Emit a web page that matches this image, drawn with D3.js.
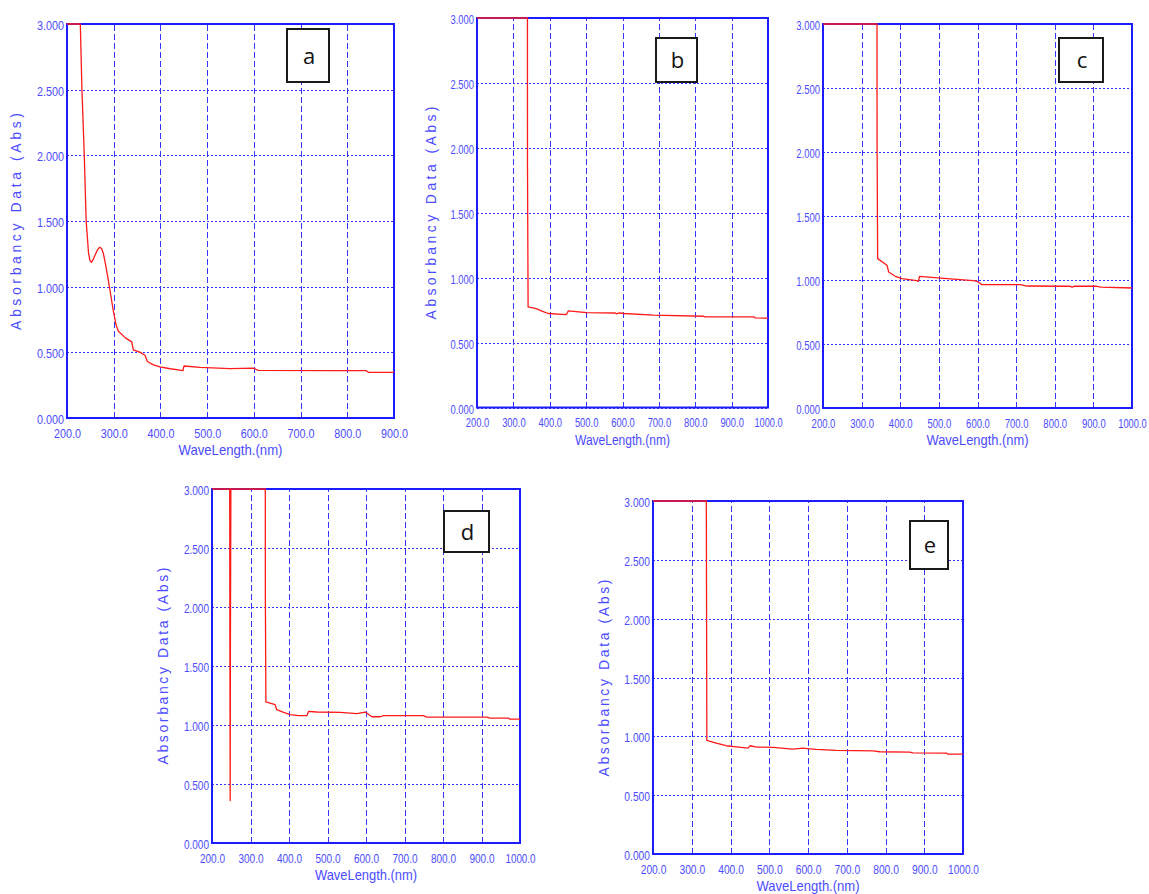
<!DOCTYPE html>
<html>
<head>
<meta charset="utf-8">
<script src="https://cdn.jsdelivr.net/npm/d3@7"></script>
<style>
body { margin: 0; background: #fff; }
svg { display: block; }
</style>
</head>
<body>
<svg id="chart" width="1149" height="894"></svg>
<script>
// UV-Vis absorbance spectra, five samples (a-e)
const yTicks = [0, 0.5, 1.0, 1.5, 2.0, 2.5, 3.0];
const xTicks900 = [200, 300, 400, 500, 600, 700, 800, 900];
const xTicks1000 = [200, 300, 400, 500, 600, 700, 800, 900, 1000];
const panelLabels = ["a", "b", "c", "d", "e"];

// [wavelength nm, absorbance]
const spectrumA = [[200, 3.0], [228.5, 3.0], [232, 2.5], [237, 2.0], [241, 1.5], [246, 1.26], [249, 1.2], [252, 1.185],
    [255, 1.2], [260, 1.24], [265, 1.28], [270, 1.3], [274, 1.29], [278, 1.25], [282, 1.18], [287, 1.08], [293, 0.95],
    [299, 0.82], [305, 0.71], [310, 0.66], [325, 0.61], [338.5, 0.58], [342, 0.518], [357, 0.5], [367, 0.478],
    [372, 0.43], [385, 0.405], [399, 0.39], [421, 0.375], [445, 0.362], [448, 0.36], [450.5, 0.396], [485, 0.386],
    [549, 0.376], [599, 0.38], [609, 0.363], [770, 0.36], [841, 0.36], [845, 0.348], [900, 0.348]];
const spectrumB = [[200, 3.0], [338.7, 3.0], [338.8, 1.878], [340.5, 0.775], [363, 0.762], [380, 0.74], [396, 0.724],
    [446, 0.716], [451, 0.744], [501, 0.731], [580, 0.728], [583, 0.722], [593, 0.728], [605, 0.724], [685, 0.711],
    [823, 0.703], [826, 0.698], [961, 0.698], [965, 0.69], [1000, 0.688]];
const spectrumC = [[200, 3.0], [339.8, 3.0], [340, 2.078], [341.5, 1.167], [365.7, 1.115], [370, 1.063], [387, 1.029],
    [404.5, 1.01], [443, 0.995], [447, 0.99], [450, 1.029], [521, 1.01], [590, 0.995], [598.6, 0.99], [611.6, 0.964],
    [711, 0.964], [728, 0.953], [840, 0.951], [845, 0.945], [850, 0.951], [909, 0.951], [920, 0.945], [1000, 0.9375]];
const spectrumD = [[200, 3.0], [246, 3.0], [246.5, 1.68], [247.2, 0.36], [247.8, 1.68], [249, 3.0], [338.4, 3.0],
    [338.6, 2.1], [340, 1.195], [364, 1.172], [368, 1.13], [386, 1.107], [403, 1.088], [425, 1.08], [446.5, 1.08],
    [451, 1.116], [472.5, 1.11], [533, 1.107], [576, 1.096], [598, 1.11], [615, 1.07], [637, 1.07], [645.5, 1.08],
    [749, 1.08], [758, 1.067], [913.6, 1.067], [922, 1.059], [970, 1.059], [974, 1.05], [1000, 1.05]];
const spectrumE = [[200, 3.0], [337.6, 3.0], [339, 0.965], [363, 0.943], [389, 0.92], [415, 0.911], [445, 0.9],
    [451, 0.92], [467, 0.909], [510, 0.906], [561, 0.892], [587, 0.9], [604, 0.894], [621.5, 0.889], [673, 0.88],
    [768, 0.877], [785, 0.869], [862, 0.866], [871, 0.86], [957, 0.858], [961, 0.849], [1000, 0.849]];

const spectra = [spectrumA, spectrumB, spectrumC, spectrumD, spectrumE];
const xTickSets = [xTicks900, xTicks1000, xTicks1000, xTicks1000, xTicks1000];

// layout of each panel on the page
const layout = [
    { left: 67, right: 394, top: 24, bottom: 418, s: 1.0, box: [287, 29, 42, 53], yt: [20.5, 221.5, 217], xt: 104 },
    { left: 477, right: 768, top: 18, bottom: 407.5, s: 0.87, box: [656, 38, 41, 44], yt: [435.5, 213, 213], xt: 95 },
    { left: 823, right: 1132, top: 24, bottom: 408, s: 0.88, box: [1059, 38, 44, 44], yt: null, xt: 102 },
    { left: 212, right: 520, top: 489, bottom: 843, s: 0.93, box: [444, 511, 45, 41], yt: [168, 666, 197], xt: 102 },
    { left: 653, right: 963, top: 501, bottom: 854, s: 0.95, box: [910, 521, 38, 48], yt: [609, 678, 197], xt: 103 }
];

const frameColor = "#1c1cff";
const gridColor = "#3535ff";
const textColor = "#4b4bff";
const font = "'Liberation Sans', Arial, sans-serif";

const svg = d3.select("#chart");

layout.forEach((p, i) => {
    const g = svg.append("g");
    const w = p.right - p.left, h = p.bottom - p.top;
    const xTicks = xTickSets[i];
    const x = d3.scaleLinear().domain([200, xTicks[xTicks.length - 1]]).range([p.left, p.right]);
    const y = d3.scaleLinear().domain([0, 3]).range([p.bottom, p.top]);

    const xAxis = g.append("g")
        .attr("transform", `translate(0,${p.bottom})`)
        .call(d3.axisBottom(x).tickValues(xTicks).tickSize(-h).tickPadding(0).tickFormat(d3.format(".1f")))
        .attr("font-family", font).attr("font-size", 13);
    xAxis.select(".domain").remove();
    xAxis.selectAll(".tick line")
        .attr("stroke", gridColor).attr("stroke-dasharray", "6,3")
        .attr("shape-rendering", "crispEdges");
    xAxis.selectAll(".tick text")
        .attr("fill", textColor).attr("dy", null).attr("y", 19.5)
        .attr("textLength", d => d3.format(".1f")(d).length * 5.4 * p.s)
        .attr("lengthAdjust", "spacingAndGlyphs");

    const yAxis = g.append("g")
        .attr("transform", `translate(${p.left},0)`)
        .call(d3.axisLeft(y).tickValues(yTicks).tickSize(-w).tickPadding(3).tickFormat(d3.format(".3f")))
        .attr("font-family", font).attr("font-size", 13);
    yAxis.select(".domain").remove();
    yAxis.selectAll(".tick line")
        .attr("stroke", gridColor).attr("stroke-dasharray", "2,2")
        .attr("shape-rendering", "crispEdges");
    yAxis.selectAll(".tick text")
        .attr("fill", textColor).attr("dy", 5.5)
        .attr("textLength", 27 * p.s)
        .attr("lengthAdjust", "spacingAndGlyphs");

    g.append("rect")
        .attr("x", p.left).attr("y", p.top).attr("width", w).attr("height", h)
        .attr("fill", "none").attr("stroke", frameColor).attr("stroke-width", 2);

    g.append("path")
        .datum(spectra[i])
        .attr("fill", "none")
        .attr("stroke", "#ff1a1a")
        .attr("stroke-width", 1.3)
        .attr("stroke-linejoin", "round")
        .attr("d", d3.line().x(d => x(d[0])).y(d => y(d[1])));

    g.append("text")
        .attr("x", (p.left + p.right) / 2).attr("y", p.bottom + 37)
        .attr("text-anchor", "middle")
        .attr("font-family", font).attr("font-size", 15)
        .attr("fill", textColor)
        .attr("textLength", p.xt).attr("lengthAdjust", "spacingAndGlyphs")
        .text("WaveLength.(nm)");

    if (p.yt) {
        g.append("text")
            .attr("transform", `translate(${p.yt[0]},${p.yt[1]}) rotate(-90)`)
            .attr("text-anchor", "middle")
            .attr("font-family", font).attr("font-size", 14)
            .attr("fill", textColor)
            .attr("textLength", p.yt[2]).attr("lengthAdjust", "spacing")
            .text("Absorbancy Data (Abs)");
    }

    const [bx, by, bw, bh] = p.box;
    g.append("rect")
        .attr("x", bx).attr("y", by).attr("width", bw).attr("height", bh)
        .attr("fill", "#fff").attr("stroke", "#1a1a1a").attr("stroke-width", 2);
    g.append("text")
        .attr("x", bx + bw / 2 + 1).attr("y", by + bh / 2 + 8)
        .attr("text-anchor", "middle")
        .attr("font-family", "'Open Sans', 'Noto Sans', sans-serif").attr("font-size", 22)
        .attr("fill", "#111")
        .text(panelLabels[i]);
});
</script>
</body>
</html>
